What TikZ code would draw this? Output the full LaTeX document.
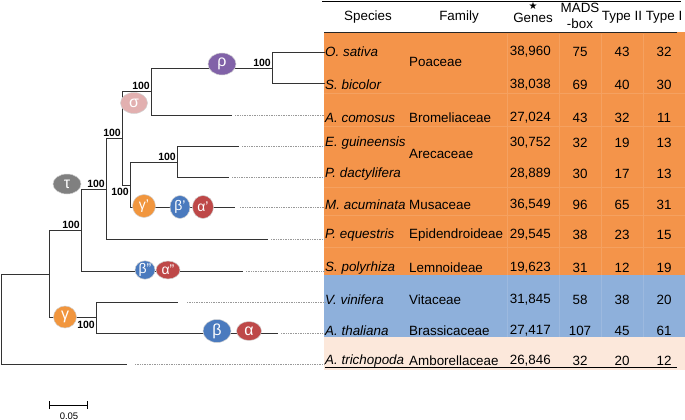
\documentclass[tikz,border=0pt]{standalone}
\usepackage{fontspec}
\setmainfont{Liberation Sans}
\newfontfamily\symfont{DejaVu Sans}
\usetikzlibrary{positioning,shapes.geometric,arrows.meta}

\definecolor{monocot}{RGB}{244,148,74}
\definecolor{eudicot}{RGB}{142,176,219}
\definecolor{amborella}{RGB}{252,232,219}
\definecolor{rhocol}{RGB}{129,98,168}
\definecolor{sigmacol}{RGB}{226,176,176}
\definecolor{taucol}{RGB}{128,128,128}
\definecolor{gammacol}{RGB}{241,150,62}
\definecolor{betacol}{RGB}{74,122,190}
\definecolor{alphacol}{RGB}{190,72,72}

\newcommand\tabfont{\fontsize{13.4}{16}\selectfont}

\tikzset{
  branch/.style={line width=0.9pt, black!80, line join=miter},
  tipdots/.style={gray!80, densely dotted, line width=0.7pt},
  boot/.style={font=\bfseries\fontsize{10.5}{12}\selectfont, inner sep=0pt},
  wgd/.style={ellipse, draw=gray!35, line width=0.5pt, text=white, inner sep=0pt,
              font=\fontsize{16}{16}\selectfont},
  wgdsmall/.style={wgd, font=\fontsize{14}{14}\selectfont},
  cell/.style={font=\tabfont, inner sep=0pt},
  spname/.style={cell, anchor=west, font=\itshape\tabfont},
  famname/.style={cell, anchor=west},
  faint/.style={monocot!88!white, line width=0.6pt},
}

\begin{document}
\begin{tikzpicture}[x=1pt, y=-1pt]
  \useasboundingbox (0,0) rectangle (685,420);

  % table background
  \fill[monocot] (324,32) rectangle (685,275);
  \fill[eudicot] (324,275) rectangle (685,337);
  \fill[amborella] (324,337) rectangle (685,370);
  \foreach \x in {507,559,601,643} \draw[faint] (\x,34) -- (\x,275);
  \foreach \y in {93,126,187,215,247} \draw[faint] (324,\y) -- (685,\y);
  \foreach \x in {507,559,601,643} \draw[eudicot!88!white, line width=0.6pt] (\x,275) -- (\x,337);

  % header
  \draw[line width=0.8pt] (322,1.5) -- (681,1.5);
  \draw[line width=1pt, black!85] (324,33) -- (677,33);
  \node[cell] (hsp) at (368,17) {Species};
  \node[cell] (hfam) at (459,17) {Family};
  \node[cell] (hgen) at (533,18) {Genes};
  \node[inner sep=0pt, font=\symfont\fontsize{10}{10}\selectfont] (hstar) at (533,6) {★};
  \node[cell, align=center] (hmads) at (580,16) {MADS\\-box};
  \node[cell] (htwo) at (622,17) {Type II};
  \node[cell] (hone) at (664,17) {Type I};

  % rows: name / branch y / text y / species / genes / MADS-box / type II / type I
  \foreach \n/\by/\ty/\sp/\g/\m/\tii/\ti in {
      osat/52/52/O. sativa/{38,960}/75/43/32,
      sbic/83/85/S. bicolor/{38,038}/69/40/30,
      acom/115/118/A. comosus/{27,024}/43/32/11,
      egui/146/143/E. guineensis/{30,752}/32/19/13,
      pdac/177/174/P. dactylifera/{28,889}/30/17/13,
      macu/207/205/M. acuminata/{36,549}/96/65/31,
      pequ/239/235/P. equestris/{29,545}/38/23/15,
      spol/271/268/S. polyrhiza/{19,623}/31/12/19,
      vvin/302/300/V. vinifera/{31,845}/58/38/20,
      atha/333/331/A. thaliana/{27,417}/107/45/61,
      atri/364/361/A. trichopoda/{26,846}/32/20/12}{
    \coordinate (t-\n) at (325,\by);
    \node[spname] (\n) at (325,\ty) {\sp};
    \node[cell, anchor=east] (g-\n) at (551,\ty) {\g};
    \node[cell] (m-\n) at (580,\ty) {\m};
    \node[cell] (tii-\n) at (622,\ty) {\tii};
    \node[cell] (ti-\n) at (664,\ty) {\ti};
  }
  \draw[line width=0.8pt] (325,367) -- (677,367);

  % families
  \node[famname] (poa) at (409,62) {Poaceae};
  \node[famname] (bro) at (409,118) {Bromeliaceae};
  \node[famname] (are) at (409,154) {Arecaceae};
  \node[famname] (mus) at (409,205) {Musaceae};
  \node[famname] (epi) at (409,235) {Epidendroideae};
  \node[famname] (lem) at (409,268) {Lemnoideae};
  \node[famname] (vit) at (409,300) {Vitaceae};
  \node[famname] (bra) at (409,331) {Brassicaceae};
  \node[famname] (amb) at (409,361) {Amborellaceae};

  % tree
  \coordinate (root) at (1,319);
  \coordinate (n1) at (49,274);
  \coordinate (m0) at (81,230);
  \coordinate (m1) at (106,189);
  \coordinate (m2) at (122,138);
  \coordinate (m3) at (151,91);
  \coordinate (m4) at (272,68);
  \coordinate (m5) at (130,185);
  \coordinate (m6) at (177,162);
  \coordinate (e0) at (96,317);

  \coordinate (e-acom) at (232,115);
  \coordinate (e-egui) at (239,146);
  \coordinate (e-pdac) at (229,177);
  \coordinate (e-macu) at (235,207);
  \coordinate (e-pequ) at (268,239);
  \coordinate (e-spol) at (243,271);
  \coordinate (e-vvin) at (178,302);
  \coordinate (e-atha) at (278,333);
  \coordinate (e-atri) at (127,364);

  \draw[branch] (root) |- (n1) (root) |- (e-atri);
  \draw[branch] (n1) |- (m0) (n1) |- (e0);
  \draw[branch] (e0) |- (e-vvin) (e0) |- (e-atha);
  \draw[branch] (m0) |- (m1) (m0) |- (e-spol);
  \draw[branch] (m1) |- (m2) (m1) |- (e-pequ);
  \draw[branch] (m2) |- (m3) (m2) |- (m5);
  \draw[branch] (m3) |- (m4) (m3) |- (e-acom);
  \draw[branch] (m4) |- (t-osat) (m4) |- (t-sbic);
  \draw[branch] (m5) |- (m6) (m5) |- (e-macu);
  \draw[branch] (m6) |- (e-egui) (m6) |- (e-pdac);

  \foreach \n/\gap in {acom/3,egui/3,pdac/3,macu/5,pequ/3,spol/3,vvin/9,atha/3,atri/8}
    \draw[tipdots] ([xshift=\gap pt]e-\n) -- (t-\n);

  % bootstrap values
  \node[boot, above left=1pt and 1pt of m4] (b1) {100};
  \node[boot, above left=1pt and 1pt of m3] (b2) {100};
  \node[boot, above left=1pt and 1pt of m2] (b3) {100};
  \node[boot, above left=1pt and 1pt of m6] (b4) {100};
  \node[boot, below left=3pt and 1pt of m5] (b5) {100};
  \node[boot, above left=1pt and 1pt of m1] (b6) {100};
  \node[boot, above left=1pt and 1pt of m0] (b7) {100};
  \node[boot, below left=4pt and 1pt of e0] (b8) {100};

  % duplication events
  \node[wgd, fill=rhocol, minimum width=28, minimum height=22] (rho) at (222,64) {ρ};
  \node[wgd, fill=sigmacol, minimum width=27, minimum height=21] (sigma) at (134,103) {σ};
  \node[wgd, fill=taucol, minimum width=28, minimum height=20] (tau) at (67,184) {τ};
  \node[wgdsmall, fill=gammacol, minimum width=23, minimum height=23] (gamma1) at (144,206) {γ'};
  \node[wgdsmall, fill=betacol, minimum width=20, minimum height=23] (beta1) at (180,207) {β'};
  \node[wgdsmall, fill=alphacol, minimum width=21, minimum height=23] (alpha1) at (203,207) {α'};
  \node[wgdsmall, fill=betacol, minimum width=20, minimum height=18] (beta2) at (145,270) {β''};
  \node[wgdsmall, fill=alphacol, minimum width=24, minimum height=18] (alpha2) at (168,270) {α''};
  \node[wgd, fill=gammacol, minimum width=23, minimum height=22] (gamma) at (65,317) {γ};
  \node[wgd, fill=betacol, minimum width=28, minimum height=23] (beta) at (217,331) {β};
  \node[wgd, fill=alphacol, minimum width=25, minimum height=19] (alpha) at (249,331) {α};

  % scale bar
  \coordinate (sb1) at (49,405);
  \coordinate (sb2) at (88,405);
  \draw[{Bar[width=8pt]}-{Bar[width=8pt]}, line width=0.7pt] (sb1) -- (sb2);
  \node[font=\fontsize{9.5}{10}\selectfont, inner sep=0pt] (sblab) at (69,416) {0.05};
\end{tikzpicture}
\end{document}
